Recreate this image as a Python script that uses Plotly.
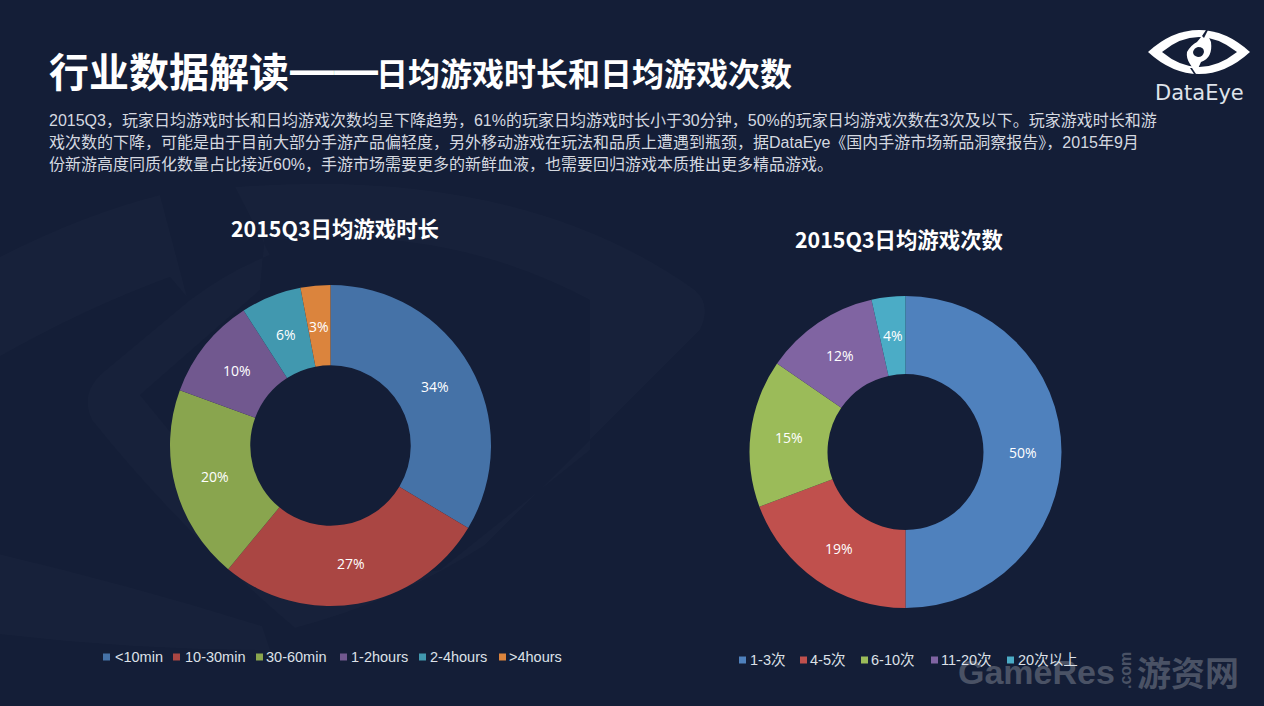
import math
import plotly.graph_objects as go

W, H = 1264, 706
BG = "#141e37"

labels_time = ["<10min", "10-30min", "30-60min", "1-2hours", "2-4hours", ">4hours"]
values_time = [33.6, 27.4, 19.6, 10.3, 6.1, 3.0]
colors_time = ["#4572A7", "#AA4643", "#89A54E", "#71588F", "#4198AF", "#DB843D"]

labels_count = ["1-3次", "4-5次", "6-10次", "11-20次", "20次以上"]
values_count = [50.0, 19.3, 15.3, 11.9, 3.5]
colors_count = ["#4F81BD", "#C0504D", "#9BBB59", "#8064A2", "#4BACC6"]

title_main = "行业数据解读"
title_dash = "——"
title_sub = "日均游戏时长和日均游戏次数"
chart_title_time = "2015Q3日均游戏时长"
chart_title_count = "2015Q3日均游戏次数"
body_lines = [
    "2015Q3，玩家日均游戏时长和日均游戏次数均呈下降趋势，61%的玩家日均游戏时长小于30分钟，50%的玩家日均游戏次数在3次及以下。玩家游戏时长和游",
    "戏次数的下降，可能是由于目前大部分手游产品偏轻度，另外移动游戏在玩法和品质上遭遇到瓶颈，据DataEye《国内手游市场新品洞察报告》，2015年9月",
    "份新游高度同质化数量占比接近60%，手游市场需要更多的新鲜血液，也需要回归游戏本质推出更多精品游戏。",
]
legend_x_time = [(103, 113), (173, 183), (256, 264), (340, 349), (419, 428), (499, 507)]
legend_x_count = [(739, 748), (800, 808), (861, 869), (931, 939), (1007, 1016)]

SANS = "Liberation Sans, Noto Sans CJK SC, sans-serif"
CJK = "Noto Sans CJK SC, sans-serif"


def px(x):
    return x / W


def py(y):
    return 1 - y / H


def path(*items):
    out = []
    for it in items:
        if isinstance(it, str):
            out.append(it)
        else:
            out.append(f"{px(it[0]):.5f},{py(it[1]):.5f}")
    return " ".join(out)


def text(x, y, s, size, color="#ffffff", family=SANS, anchor="left", angle=0):
    return dict(xref="paper", yref="paper", x=px(x), y=py(y), text=s, showarrow=False,
                xanchor=anchor, yanchor="middle", textangle=angle,
                font=dict(size=size, color=color, family=family))


def donut(values, labels, colors, cx, cy, r):
    return go.Pie(values=values, labels=labels, sort=False, direction="clockwise", rotation=0,
                  hole=0.5, marker=dict(colors=colors, line=dict(width=0)),
                  textinfo="none",
                  domain=dict(x=[px(cx - r), px(cx + r)], y=[py(cy + r), py(cy - r)]),
                  showlegend=False, hoverinfo="label+percent")


def ring_labels(values, cx, cy, r):
    total = sum(values)
    out, acc = [], 0
    for v in values:
        a = 2 * math.pi * (acc + v / 2) / total
        acc += v
        out.append(text(cx + r * math.sin(a), cy - r * math.cos(a), f"{v / total:.0%}", 14,
                        family="Open Sans, sans-serif", anchor="center"))
    return out


fig = go.Figure([
    donut(values_time, labels_time, colors_time, 330.5, 445.5, 160.5),
    donut(values_count, labels_count, colors_count, 905.5, 452, 156),
])

annotations = [
    text(47, 70, f"<b>{title_main}</b>", 40, family=CJK),
    text(288, 70, f"<b>{title_dash}</b>", 44, family="Liberation Sans, sans-serif"),
    text(374, 72, f"<b>{title_sub}</b>", 32, family=CJK),
    text(335, 228, f"<b>{chart_title_time}</b>", 21.4, family=CJK, anchor="center"),
    text(899, 239, f"<b>{chart_title_count}</b>", 21.4, family=CJK, anchor="center"),
    text(1199, 93, "DataEye", 21, color="#dfe3ea", family="DejaVu Sans, sans-serif", anchor="center"),
    text(956, 672, "<b>GameRes</b>", 34, color="#4a5265", family="Liberation Sans, sans-serif"),
    text(1125, 671, "<b>.com</b>", 16, color="#4a5265", family="Liberation Sans, sans-serif", anchor="center", angle=-90),
    text(1135, 671, "<b>游资网</b>", 34, color="#4a5265", family=CJK),
]
annotations += ring_labels(values_time, 330.5, 445.5, 120)
annotations += ring_labels(values_count, 905.5, 452, 117)
for i, line in enumerate(body_lines):
    annotations.append(text(47, 121 + i * 21.5, line, 16, color="#d5d9e0"))

shapes = []
# faint eye watermark behind the charts
for d in [
    path("M", (-10, 262), "Q", (80, 215), (160, 195), "L", (187, 297), "L", (170, 277),
         "Q", (80, 310), (-10, 362), "Z"),
    path("M", (235, 187), "Q", (520, 165), (695, 290), "Q", (712, 305), (700, 330),
         "L", (485, 545), "Q", (400, 600), (295, 628), "Q", (180, 530), (92, 420),
         "Q", (80, 395), (100, 375), "L", (190, 300), "Q", (230, 270), (270, 255), "Z",
         "M", (265, 232), "L", (280, 240), "Q", (450, 225), (590, 300),
         "L", (590, 450), "L", (440, 570), "L", (300, 590), "L", (140, 395), "L", (260, 290), "Z"),
    path("M", (-10, 552), "Q", (130, 585), (262, 626), "L", (270, 650), "Q", (130, 650), (-10, 633), "Z"),
]:
    shapes.append(dict(type="path", xref="paper", yref="paper", path=d, layer="below", fillrule="evenodd",
                       fillcolor="rgba(255,255,255,0.014)", line=dict(width=0)))

# DataEye logo
logo = [
    (path("M", (1148, 52), "Q", (1172, 30), (1199, 30), "Q", (1226, 30), (1250, 52),
          "Q", (1226, 74), (1199, 74), "Q", (1172, 74), (1148, 52), "Z"), "#ffffff"),
    (path("M", (1162, 52), "Q", (1180, 37), (1199, 37), "Q", (1218, 37), (1237, 52),
          "Q", (1218, 67), (1199, 67), "Q", (1180, 67), (1162, 52), "Z"), BG),
    (path("M", (1187, 52), "Q", (1191, 45), (1197, 42), "L", (1206, 31), "L", (1211, 42),
          "Q", (1213, 58), (1201, 62), "L", (1196, 73), "L", (1190, 64), "Q", (1186, 58), (1187, 52), "Z"), "#ffffff"),
    (path("M", (1198, 47), "Q", (1204, 47), (1204, 52), "Q", (1203, 57), (1198, 57), "Q", (1193, 56), (1193, 52),
          "Q", (1194, 48), (1198, 47), "Z"), BG),
    (path("M", (1202, 36), "L", (1206, 30), "L", (1208, 30), "L", (1204, 38), "Z"), BG),
    (path("M", (1192, 68), "L", (1196, 74), "L", (1194, 74), "L", (1190, 68), "Z"), BG),
]
for d, c in logo:
    shapes.append(dict(type="path", xref="paper", yref="paper", path=d, fillcolor=c, line=dict(width=0)))

# hand-placed legends matching the two chart keys
for labels, colors, xs, y in [(labels_time, colors_time, legend_x_time, 657),
                              (labels_count, colors_count, legend_x_count, 660)]:
    for lab, col, (sx, tx) in zip(labels, colors, xs):
        shapes.append(dict(type="rect", xref="paper", yref="paper", x0=px(sx), x1=px(sx + 7),
                           y0=py(y + 3.5), y1=py(y - 3.5), fillcolor=col, line=dict(width=0)))
        annotations.append(text(tx, y, lab, 14.5, color="#dde1e8"))

fig.update_layout(width=W, height=H, margin=dict(l=0, r=0, t=0, b=0), autosize=False,
                  paper_bgcolor=BG, plot_bgcolor=BG, annotations=annotations, shapes=shapes,
                  showlegend=False)

fig.write_html("out.html", config=dict(displayModeBar=False, responsive=False),
               post_script="document.body.style.margin='0';document.body.style.background='" + BG + "';")
